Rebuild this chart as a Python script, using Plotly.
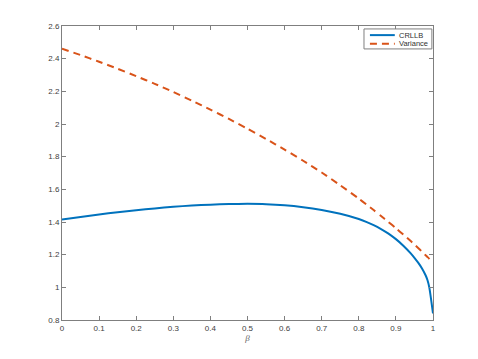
import plotly.graph_objects as go

beta = [0.0, 0.05, 0.1, 0.15, 0.2, 0.25, 0.3, 0.35, 0.4, 0.45, 0.5, 0.55, 0.6, 0.65, 0.7,
        0.75, 0.8, 0.82, 0.84, 0.86, 0.88, 0.9, 0.92, 0.94, 0.95, 0.96, 0.97, 0.98, 0.985, 0.99, 1.0]
crllb = [1.415, 1.431, 1.446, 1.460, 1.472, 1.483, 1.493, 1.501, 1.506, 1.510, 1.511, 1.509,
         1.502, 1.490, 1.473, 1.450, 1.418, 1.401, 1.381, 1.357, 1.329, 1.295, 1.255, 1.208,
         1.181, 1.151, 1.117, 1.074, 1.045, 1.000, 0.840]
variance = [2.461, 2.422, 2.381, 2.338, 2.293, 2.246, 2.196, 2.143, 2.088, 2.031, 1.971, 1.908,
            1.843, 1.775, 1.703, 1.625, 1.543, 1.508, 1.473, 1.437, 1.400, 1.362, 1.323, 1.283,
            1.262, 1.241, 1.219, 1.197, 1.186, 1.175, 1.152]

x_ticks = [0, 0.1, 0.2, 0.3, 0.4, 0.5, 0.6, 0.7, 0.8, 0.9, 1]
x_labels = ["0", "0.1", "0.2", "0.3", "0.4", "0.5", "0.6", "0.7", "0.8", "0.9", "1"]
y_ticks = [0.8, 1.0, 1.2, 1.4, 1.6, 1.8, 2.0, 2.2, 2.4, 2.6]
y_labels = ["0.8", "1", "1.2", "1.4", "1.6", "1.8", "2", "2.2", "2.4", "2.6"]
series_names = ["CRLLB", "Variance"]
series_colors = ["#0072BD", "#D95319"]

fig = go.Figure()
fig.add_trace(go.Scatter(x=beta, y=crllb, mode="lines", name=series_names[0],
                         line=dict(color=series_colors[0], width=2, shape="spline", smoothing=0.6)))
fig.add_trace(go.Scatter(x=beta, y=variance, mode="lines", name=series_names[1],
                         line=dict(color=series_colors[1], width=2, dash="7px,5px",
                                   shape="spline", smoothing=0.6)))

axis_common = dict(showgrid=False, zeroline=False, showline=True, linecolor="#7f7f7f",
                   linewidth=1, mirror="ticks", ticks="inside", ticklen=4,
                   tickcolor="#7f7f7f",
                   tickfont=dict(family="Liberation Sans, Arial", size=8, color="#404040"))

# manual MATLAB-style legend (paper coordinates)
legend_box = dict(x0=0.814, x1=0.997, y0=0.922, y1=0.990)
legend_rows_y = [0.969, 0.940]
shapes = [dict(type="rect", xref="paper", yref="paper", line=dict(color="#7f7f7f", width=1),
               fillcolor="white", **legend_box)]
annotations = []
dashes = ["solid", "7px,5px"]
for name, color, yy, dsh in zip(series_names, series_colors, legend_rows_y, dashes):
    shapes.append(dict(type="line", xref="paper", yref="paper", x0=0.830, x1=0.897, y0=yy, y1=yy,
                       line=dict(color=color, width=2, dash=dsh)))
    annotations.append(dict(text=name, xref="paper", yref="paper", x=0.903, y=yy,
                            xanchor="left", yanchor="middle", showarrow=False,
                            font=dict(family="Liberation Sans, Arial", size=7.5, color="#303030")))

# body has an 8px default margin, so shrink figure accordingly
fig.update_layout(
    width=470, height=351,
    margin=dict(l=54, r=45, t=18, b=39),
    paper_bgcolor="white", plot_bgcolor="white",
    xaxis=dict(range=[0, 1], tickvals=x_ticks, ticktext=x_labels,
               title=dict(text="<i>β</i>", standoff=2,
                          font=dict(family="Liberation Serif, Times New Roman", size=9, color="#606060")),
               **axis_common),
    yaxis=dict(range=[0.8, 2.6], tickvals=y_ticks, ticktext=y_labels, **axis_common),
    showlegend=False,
    shapes=shapes,
    annotations=annotations,
)

fig.write_html("out.html")
